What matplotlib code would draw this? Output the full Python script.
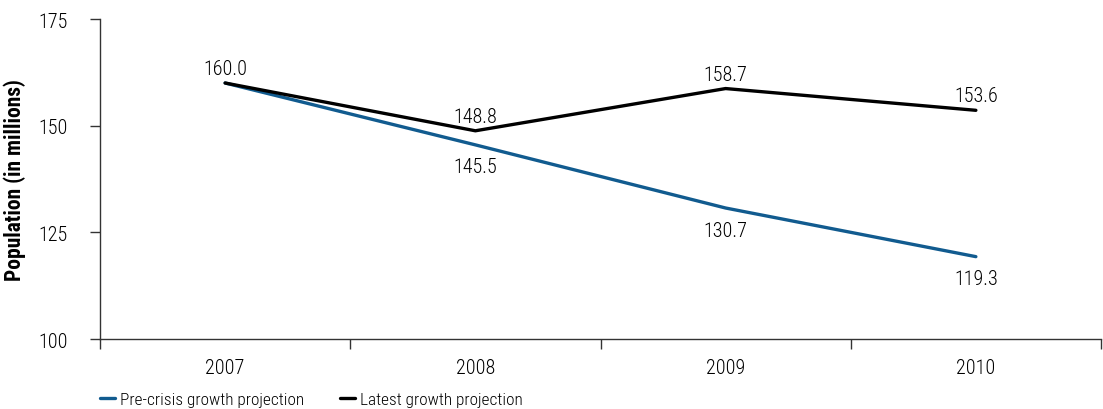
import matplotlib
matplotlib.use("Agg")
import matplotlib.pyplot as plt
from matplotlib import font_manager as fm
import numpy as np

years = ["2007", "2008", "2009", "2010"]
pre_crisis = [160.0, 145.5, 130.7, 119.3]
latest = [160.0, 148.8, 158.7, 153.6]
series_names = ["Pre-crisis growth projection", "Latest growth projection"]

# pick a condensed face if one exists
names = set(f.name for f in fm.fontManager.ttflist)
family = "DejaVu Sans"
stretch = "normal"
for cand in ["Roboto Condensed", "Liberation Sans Narrow", "Open Sans Condensed"]:
    if cand in names:
        family = cand
        break
else:
    stretch = "condensed"
plt.rcParams["font.family"] = family
plt.rcParams["font.stretch"] = stretch
plt.rcParams["font.weight"] = "light"

fs = 14.5
blue = "#115b8f"
fig = plt.figure(figsize=(11.03, 4.10), dpi=100)
ax = fig.add_axes([100 / 1103, 70 / 410, 1001 / 1103, 320 / 410])

x = np.arange(len(years))
ax.plot(x, pre_crisis, color=blue, lw=2.4, solid_capstyle="round", label=series_names[0])
ax.plot(x, latest, color="black", lw=2.4, solid_capstyle="round", label=series_names[1])

for i in range(len(years)):
    ax.annotate("%.1f" % latest[i], (x[i], latest[i]), xytext=(0, 6.5),
                textcoords="offset points", ha="center", va="baseline", fontsize=fs)
    if i == 0:
        continue
    ax.annotate("%.1f" % pre_crisis[i], (x[i], pre_crisis[i]), xytext=(0, -9),
                textcoords="offset points", ha="center", va="top", fontsize=fs)

ax.set_xlim(-0.5, len(years) - 0.5)
ax.set_ylim(100, 175)
ax.set_yticks([100, 125, 150, 175])
ax.set_xticks(np.arange(len(years) + 1) - 0.5)
ax.set_xticklabels([])
ax.set_xticks(x, minor=True)
ax.set_xticklabels(years, minor=True)
ax.tick_params(axis="x", which="minor", length=0, pad=14, labelsize=fs)
ax.tick_params(axis="x", which="major", length=7, width=1, color="#333333")
ax.tick_params(axis="y", length=7, width=1, color="#333333", labelsize=fs, pad=16)

for s in ["top", "right"]:
    ax.spines[s].set_visible(False)
for s in ["left", "bottom"]:
    ax.spines[s].set_color("#333333")
    ax.spines[s].set_linewidth(1)

ax.set_ylabel("Population (in millions)", fontsize=15.5, fontweight="bold")
ax.yaxis.set_label_coords(-74 / 1001, 0.5)

leg = fig.legend(loc="center left", bbox_to_anchor=(100 / 1103, 10 / 410), ncol=2, frameon=False,
                 fontsize=12.4, borderpad=0, borderaxespad=0, handlelength=0.85,
                 handletextpad=0.3, columnspacing=2.1)

fig.savefig("out.png", dpi=100)
